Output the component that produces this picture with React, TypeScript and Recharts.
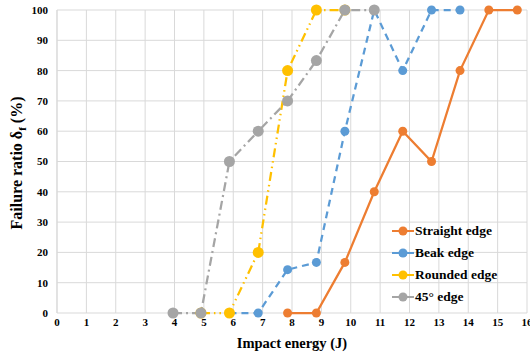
import { LineChart, Line, XAxis, YAxis, CartesianGrid, Label } from 'recharts';

const xTicks = [0, 1, 2, 3, 4, 5, 6, 7, 8, 9, 10, 11, 12, 13, 14, 15, 16];
const xMinorTicks = Array.from({ length: 81 }, (_, i) => Math.round(i * 2) / 10);
const yTicks = [0, 10, 20, 30, 40, 50, 60, 70, 80, 90, 100];

const straightX = [7.85, 8.83, 9.8, 10.8, 11.77, 12.75, 13.72, 14.7, 15.67];
const straightY = [0, 0, 16.7, 40, 60, 50, 80, 100, 100];
const beakX = [5.87, 6.85, 7.85, 8.83, 9.8, 10.8, 11.77, 12.75, 13.72];
const beakY = [0, 0, 14.3, 16.7, 60, 100, 80, 100, 100];
const roundedX = [4.9, 5.87, 6.85, 7.85, 8.83, 9.8];
const roundedY = [0, 0, 20, 80, 100, 100];
const degX = [3.95, 4.9, 5.87, 6.85, 7.85, 8.83, 9.8, 10.8];
const degY = [0, 0, 50, 60, 70, 83.3, 100, 100];

const toPoints = (xs: number[], ys: number[]) => xs.map((x, i) => ({ x, y: ys[i] }));

const series = [
  { name: 'Straight edge', data: toPoints(straightX, straightY), color: '#ED7D31', dash: undefined, r: 4.5 },
  { name: 'Beak edge', data: toPoints(beakX, beakY), color: '#5B9BD5', dash: '7 5', r: 4.5 },
  { name: 'Rounded edge', data: toPoints(roundedX, roundedY), color: '#FFC000', dash: '9 4 1.5 4 1.5 4', r: 5.5 },
  { name: '45° edge', data: toPoints(degX, degY), color: '#A5A5A5', dash: '9 4 2 4', r: 5.5 },
];

const font = 'Liberation Serif';

const LegendBox = () => (
  <div
    style={{
      position: 'absolute',
      left: 392,
      top: 220,
      fontFamily: font,
      fontWeight: 700,
      fontSize: 13.5,
      color: '#000',
      whiteSpace: 'nowrap',
    }}
  >
    {series.map((s) => (
      <div key={s.name} style={{ display: 'flex', alignItems: 'center', height: 22 }}>
        <svg width={22} height={12} style={{ marginRight: 1 }}>
          <line x1={0} y1={6} x2={22} y2={6} stroke={s.color} strokeWidth={2} />
          <circle cx={11} cy={6} r={4.5} fill={s.color} />
        </svg>
        <span>{s.name}</span>
      </div>
    ))}
  </div>
);

const YLabel = () => (
  <text
    transform="translate(22,163) rotate(-90)"
    textAnchor="middle"
    fontFamily={font}
    fontWeight={700}
    fontSize={16}
    fill="#000"
  >
    <tspan>Failure ratio δ</tspan>
    <tspan fontSize={11} dy={4}>f</tspan>
    <tspan dy={-4}> (%)</tspan>
  </text>
);

export default function App() {
  return (
    <div style={{ position: 'relative', width: 530, height: 356, background: '#fff' }}>
      <style>{`body{margin:0}`}</style>
      <LineChart width={530} height={356} margin={{ top: 10, right: 3, left: 0, bottom: 0 }}>
        <CartesianGrid stroke="#D9D9D9" strokeWidth={1} />
        <XAxis
          xAxisId="minor"
          type="number"
          dataKey="x"
          domain={[0, 16]}
          ticks={xMinorTicks}
          interval={0}
          height={0}
          axisLine={{ stroke: '#BFBFBF' }}
          tickLine={{ stroke: '#BFBFBF' }}
          tickSize={2}
          tickFormatter={() => ''}
        />
        <XAxis
          type="number"
          dataKey="x"
          domain={[0, 16]}
          ticks={xTicks}
          interval={0}
          height={43}
          axisLine={false}
          tickLine={false}
          tickSize={0}
          tickMargin={5}
          tick={{ fontFamily: font, fontWeight: 700, fontSize: 11, fill: '#000' }}
        >
          <Label
            value="Impact energy (J)"
            position="insideBottom"
            offset={8}
            style={{ fontFamily: font, fontWeight: 700, fontSize: 14.5, fill: '#000' }}
          />
        </XAxis>
        <YAxis
          type="number"
          domain={[0, 100]}
          ticks={yTicks}
          interval={0}
          width={57}
          axisLine={{ stroke: '#D9D9D9' }}
          tickLine={false}
          tickSize={0}
          tickMargin={9}
          tick={{ fontFamily: font, fontWeight: 700, fontSize: 11, fill: '#000' }}
        >
          <Label content={<YLabel />} />
        </YAxis>
        {series.map((s) => (
          <Line
            key={s.name}
            data={s.data}
            dataKey="y"
            name={s.name}
            type="linear"
            stroke={s.color}
            strokeWidth={2.25}
            strokeDasharray={s.dash}
            dot={{ r: s.r, fill: s.color, stroke: s.color, strokeWidth: 0, strokeDasharray: '' }}
            activeDot={false}
            isAnimationActive={false}
          />
        ))}
      </LineChart>
      <LegendBox />
    </div>
  );
}
